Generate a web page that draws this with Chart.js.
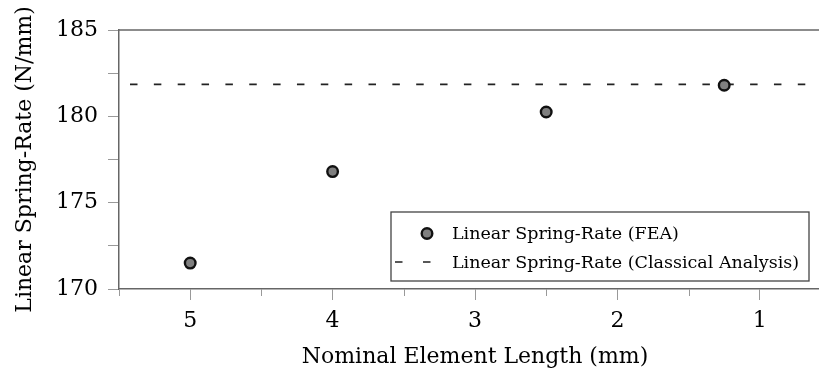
<!DOCTYPE html>
<html>
<head>
<meta charset="utf-8">
<script src="https://cdn.jsdelivr.net/npm/chart.js@4.4.1/dist/chart.umd.min.js"></script>
<style>
  html, body { margin: 0; padding: 0; background: #fff; overflow: hidden; }
  #wrap { width: 850px; height: 372px; }
</style>
</head>
<body>
<div id="wrap"><canvas id="c"></canvas></div>
<script>
const elementLengths = [5, 4, 2.5, 1.25];
const feaRates = [171.5, 176.8, 180.25, 181.8];
const classicalRate = 181.85;
const xRange = [5.5, 0.5];
const yRange = [170, 185];
const legendLabels = ["Linear Spring-Rate (FEA)", "Linear Spring-Rate (Classical Analysis)"];

const FONT = "'DejaVu Serif', 'Liberation Serif', serif";
Chart.defaults.font.family = FONT;
Chart.defaults.color = "#000";

// frame top line, minor x ticks and the legend box
const extras = {
  id: "extras",
  afterDraw(chart) {
    const { ctx, chartArea: a, scales } = chart;
    ctx.save();
    ctx.strokeStyle = "#666";
    ctx.lineWidth = 1.5;
    ctx.beginPath();
    ctx.moveTo(a.left, a.top);
    ctx.lineTo(a.right + 2, a.top);
    ctx.stroke();

    ctx.strokeStyle = "#999";
    ctx.lineWidth = 1;
    scales.x.ticks.forEach((t) => {
      if (Number.isInteger(t.value)) return;
      const px = Math.round(scales.x.getPixelForValue(t.value)) + 0.5;
      ctx.beginPath();
      ctx.moveTo(px, a.bottom);
      ctx.lineTo(px, a.bottom + 7);
      ctx.stroke();
    });

    const bx = a.right - 440, by = a.bottom - 77, bw = 418, bh = 69;
    ctx.fillStyle = "#fff";
    ctx.fillRect(bx, by, bw, bh);
    ctx.strokeStyle = "#444";
    ctx.lineWidth = 1.3;
    ctx.strokeRect(bx, by, bw, bh);

    ctx.beginPath();
    ctx.arc(bx + 36, by + 21.5, 5.3, 0, Math.PI * 2);
    ctx.fillStyle = "#7f7f7f";
    ctx.fill();
    ctx.lineWidth = 2.4;
    ctx.strokeStyle = "#111";
    ctx.stroke();

    ctx.setLineDash([7.5, 20.5]);
    ctx.lineWidth = 1.6;
    ctx.strokeStyle = "#222";
    ctx.beginPath();
    ctx.moveTo(bx + 4, by + 50);
    ctx.lineTo(bx + 40, by + 50);
    ctx.stroke();
    ctx.setLineDash([]);

    ctx.fillStyle = "#000";
    ctx.font = "17.5px " + FONT;
    ctx.textBaseline = "alphabetic";
    ctx.fillText(legendLabels[0], bx + 61, by + 27.3);
    ctx.fillText(legendLabels[1], bx + 61, by + 56.3);
    ctx.restore();
  },
};

new Chart(document.getElementById("c"), {
  type: "scatter",
  data: {
    datasets: [
      {
        label: legendLabels[0],
        data: elementLengths.map((x, i) => ({ x, y: feaRates[i] })),
        pointRadius: 5.3,
        pointBorderWidth: 2.4,
        pointBackgroundColor: "#7f7f7f",
        pointBorderColor: "#111",
        order: 1,
      },
      {
        type: "line",
        label: legendLabels[1],
        data: xRange.map((x) => ({ x, y: classicalRate })),
        borderColor: "#222",
        borderWidth: 1.6,
        borderDash: [7.5, 16.35],
        borderDashOffset: 12.85,
        pointRadius: 0,
        fill: false,
        order: 2,
      },
    ],
  },
  options: {
    responsive: true,
    maintainAspectRatio: false,
    animation: false,
    layout: { padding: { top: 30, right: 19, left: 0, bottom: 0 } },
    plugins: { legend: { display: false }, tooltip: { enabled: false } },
    scales: {
      x: {
        type: "linear",
        reverse: true,
        min: xRange[1],
        max: xRange[0],
        afterFit: (s) => { s.height = 83; },
        ticks: {
          stepSize: 0.5,
          autoSkip: false,
          maxRotation: 0,
          padding: 8,
          font: { size: 22 },
          color: "#000",
          callback: (v) => (Number.isInteger(v) ? v : ""),
        },
        grid: {
          drawOnChartArea: false,
          tickLength: 11,
          tickColor: (c) => (c.tick && Number.isInteger(c.tick.value) ? "#999" : "rgba(0,0,0,0)"),
        },
        border: { color: "#666", width: 1.5 },
        title: {
          display: true,
          text: "Nominal Element Length (mm)",
          font: { size: 22 },
          color: "#000",
          padding: { top: 0, bottom: 1.5 },
        },
      },
      y: {
        min: yRange[0],
        max: yRange[1],
        afterFit: (s) => { s.width = 119; },
        ticks: {
          stepSize: 2.5,
          padding: 10,
          font: { size: 22 },
          color: "#000",
          callback: (v) => (v % 5 === 0 ? v : ""),
        },
        grid: { drawOnChartArea: false, tickLength: 11, tickColor: "#999" },
        border: { color: "#666", width: 1.5 },
        title: {
          display: true,
          text: "Linear Spring-Rate (N/mm)",
          font: { size: 22 },
          color: "#000",
          padding: { top: 12.5, bottom: 0 },
        },
      },
    },
  },
  plugins: [extras],
});
</script>
</body>
</html>
